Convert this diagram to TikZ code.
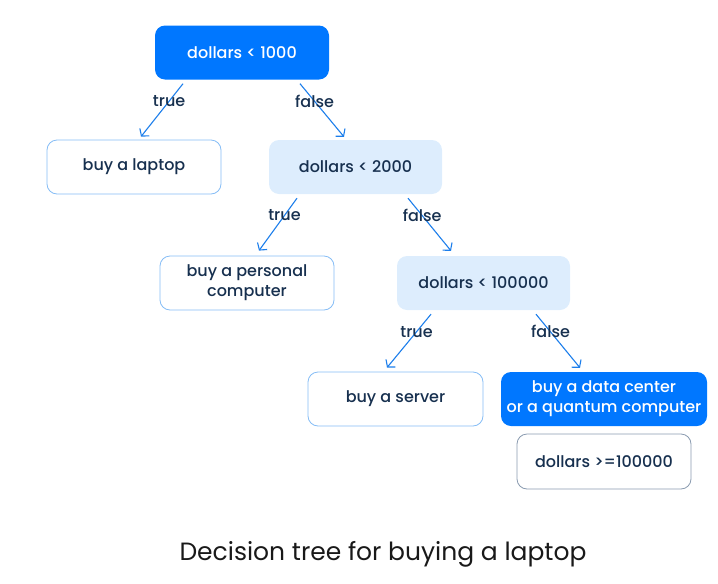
\documentclass[tikz,border=0pt]{standalone}
\usepackage{fontspec}
\setmainfont{Poppins}[UprightFont=* Medium]
\newfontfamily\capfont{Poppins}
\usetikzlibrary{arrows.meta,calc}
\definecolor{bblue}{HTML}{0077FF}
\definecolor{lblue}{HTML}{DDEDFD}
\definecolor{bord}{HTML}{86BDF6}
\definecolor{navy}{HTML}{17304F}
\definecolor{arr}{HTML}{1C7EEB}
\definecolor{gbord}{HTML}{8A9BB0}
\begin{document}
\begin{tikzpicture}[x=1pt,y=-1pt,
  box/.style={rounded corners=10pt,minimum width=174pt,minimum height=54pt,align=center,font=\fontsize{16}{20}\selectfont,text=navy,inner sep=0pt},
  darkbox/.style={box,fill=bblue,text=white},
  lightbox/.style={box,fill=lblue},
  leafbox/.style={box,draw=bord,fill=white,line width=0.8pt},
  graybox/.style={box,draw=gbord,fill=white,line width=0.8pt},
  edge/.style={draw=arr,line width=1.1pt,-{Straight Barb[length=5pt,width=12pt,line width=1.1pt]}},
  lbl/.style={font=\fontsize{16}{18}\selectfont,text=navy,inner sep=0pt}]
\useasboundingbox (0,0) rectangle (718,584);
\node[darkbox] (root) at (242,52.5) {dollars < 1000};
\node[leafbox] (laptop) at (134,167) {buy a laptop};
\node[lightbox,minimum width=173pt] (d2000) at (355.5,167) {dollars < 2000};
\node[leafbox] (pc) at (247,283) {buy a personal\\computer};
\node[lightbox,minimum width=173pt] (d100k) at (483.5,283) {dollars < 100000};
\node[leafbox,minimum width=175pt] (server) at (395.5,399) {buy a server};
\node[darkbox,minimum width=206pt] (dc) at (604,399) {buy a data center\\or a quantum computer};
\node[graybox,minimum height=55pt] (ge) at (604,461.5) {dollars >=100000};

\coordinate (a1) at ($(root.south)+(-59,4)$);
\coordinate (a2) at ($(laptop.north)+(7,-3)$);
\coordinate (b1) at ($(root.south)+(58,4)$);
\coordinate (b2) at ($(d2000.north)+(-11.5,-3)$);
\coordinate (c1) at ($(d2000.south)+(-58.5,4)$);
\coordinate (c2) at ($(pc.north)+(12,-5)$);
\coordinate (d1) at ($(d2000.south)+(52.5,4)$);
\coordinate (d2) at ($(d100k.north)+(-32.5,-5)$);
\coordinate (e1) at ($(d100k.south)+(-52.5,4)$);
\coordinate (e2) at ($(server.north)+(-8.5,-4)$);
\coordinate (f1) at ($(d100k.south)+(52.5,4)$);
\coordinate (f2) at ($(dc.north)+(-24,-4)$);

\draw[edge] (a1) -- node[lbl,pos=0.33] (t1) {true} (a2);
\draw[edge] (b1) -- node[lbl,pos=0.33] (f1l) {false} (b2);
\draw[edge] (c1) -- node[lbl,pos=0.33] (t2) {true} (c2);
\draw[edge] (d1) -- node[lbl,pos=0.33] (f2l) {false} (d2);
\draw[edge] (e1) -- node[lbl,pos=0.33] (t3) {true} (e2);
\draw[edge] (f1) -- node[lbl,pos=0.33] (f3l) {false} (f2);

\node[font=\capfont\fontsize{25}{30}\selectfont,text=black!90] (cap) at (383,554) {Decision tree for buying a laptop};
\end{tikzpicture}
\end{document}
